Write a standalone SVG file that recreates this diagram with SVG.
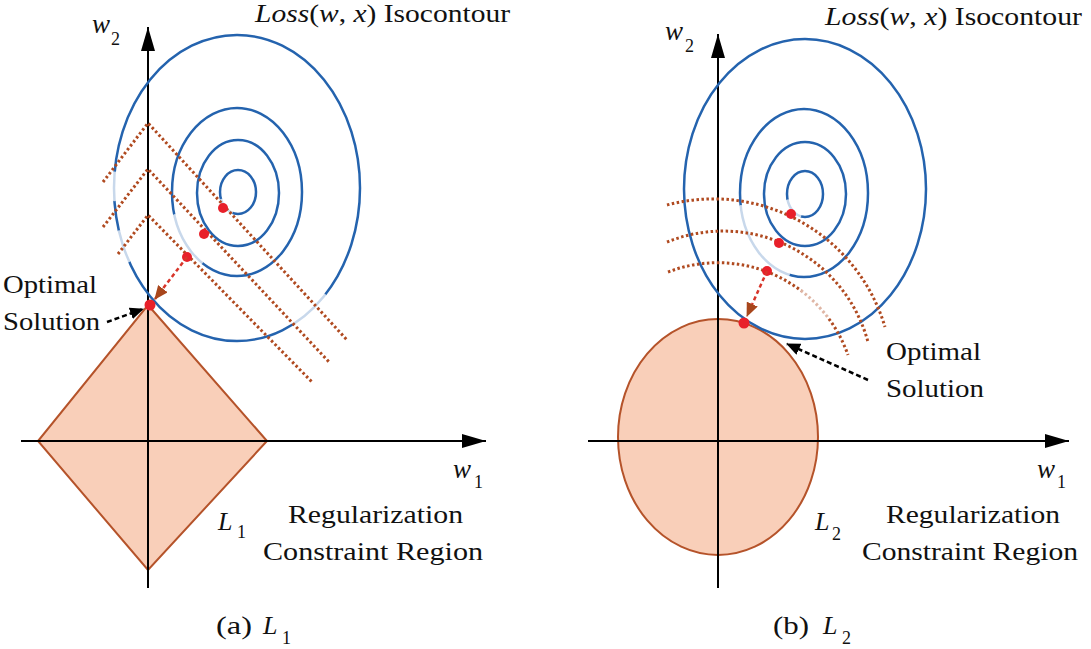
<svg xmlns="http://www.w3.org/2000/svg" width="1091" height="649" viewBox="0 0 1091 649">
<defs>
<marker id="axhead" markerWidth="24" markerHeight="14" refX="24" refY="7" orient="auto" markerUnits="userSpaceOnUse"><path d="M0,0 L24,7 L0,14 Z" fill="#000"/></marker>
<marker id="bhead" markerWidth="14" markerHeight="12" refX="13" refY="6" orient="auto" markerUnits="userSpaceOnUse"><path d="M0,0 L14,6 L0,12 Z" fill="#a8461c"/></marker>
<marker id="khead" markerWidth="14" markerHeight="12" refX="13" refY="6" orient="auto" markerUnits="userSpaceOnUse"><path d="M0,0 L14,6 L0,12 Z" fill="#000"/></marker>
</defs>
<style>
.axis{stroke:#000;stroke-width:2;fill:none;}
.contour{stroke:#2463ae;stroke-width:2.5;fill:none;}
.dot{stroke:#b04a20;stroke-width:3;fill:none;stroke-dasharray:2.5 2.5;}
.region{fill:#f9cfb9;stroke:#b5532a;stroke-width:2;}
.pt{fill:#e8202a;}
.rarrow{stroke:#d8352a;stroke-width:2.5;stroke-dasharray:4 3;fill:none;}
.karrow{stroke:#000;stroke-width:2.5;stroke-dasharray:5 3;fill:none;}
.fade{stroke:#fff;stroke-width:5;fill:none;stroke-opacity:0.75;stroke-linecap:round;}
</style>
<rect width="1091" height="649" fill="#fff"/>

<!-- Left panel (a) -->
<g id="a-region"><polygon class="region" points="148,305 267,441 148,570 38,441"/></g>
<g id="a-axes">
<line class="axis" x1="148" y1="588" x2="148" y2="27" marker-end="url(#axhead)"/>
<line class="axis" x1="21" y1="441" x2="486" y2="441" marker-end="url(#axhead)"/>
</g>
<g id="a-contours">
<ellipse class="contour" cx="237" cy="188" rx="123" ry="153"/>
<ellipse class="contour" cx="237" cy="192" rx="65" ry="84"/>
<ellipse class="contour" cx="238" cy="193" rx="41" ry="53"/>
<ellipse class="contour" cx="238" cy="192" rx="18" ry="22"/>
</g>
<g id="a-fades">
<path class="fade" d="M114.7,174 A123,153 0 0 0 114.3,198.7"/>
<path class="fade" d="M119.4,232.7 A123,153 0 0 0 128.4,259.8"/>
<path class="fade" d="M294.7,323.1 A123,153 0 0 0 324,296.2"/>
<path class="fade" d="M174.8,216.6 A65,84 0 0 0 200.7,261.6"/>
<path class="fade" d="M221.7,201.3 A18,22 0 0 0 230.4,211.9"/>
</g>
<g id="a-levels">
<path class="dot" d="M103,182 L148,123 L347,340"/>
<path class="dot" d="M103,227 L148,169 L330,363"/>
<path class="dot" d="M118,254 L148,215 L313,383"/>
</g>
<g id="a-points">
<circle class="pt" cx="223" cy="208" r="5"/>
<circle class="pt" cx="204" cy="234" r="5"/>
<circle class="pt" cx="187" cy="257" r="5"/>
<circle class="pt" cx="150" cy="305" r="5.5"/>
</g>
<g id="a-connectors">
<line class="rarrow" x1="187" y1="257" x2="155" y2="299" marker-end="url(#bhead)"/>
<line class="karrow" x1="107" y1="322" x2="143" y2="309" marker-end="url(#khead)"/>
</g>
<g id="a-labels" fill="#111">
<text style="font-family:'Liberation Serif',serif;font-size:26px;font-style:italic" x="255" y="22" textLength="255" lengthAdjust="spacingAndGlyphs">Loss<tspan style="font-style:normal">(</tspan>w<tspan style="font-style:normal">, </tspan>x<tspan style="font-style:normal">) Isocontour</tspan></text>
<text style="font-family:'Liberation Serif',serif;font-size:27px;font-style:italic" x="92" y="33">w</text>
<text style="font-family:'Liberation Serif',serif;font-size:18px" x="111" y="45">2</text>
<text style="font-family:'Liberation Serif',serif;font-size:27px;font-style:italic" x="453" y="478">w</text>
<text style="font-family:'Liberation Serif',serif;font-size:18px" x="474" y="488">1</text>
<text style="font-family:'Liberation Serif',serif;font-size:26px" x="3" y="293" textLength="94" lengthAdjust="spacingAndGlyphs">Optimal</text>
<text style="font-family:'Liberation Serif',serif;font-size:26px" x="3" y="330" textLength="97" lengthAdjust="spacingAndGlyphs">Solution</text>
<text style="font-family:'Liberation Serif',serif;font-size:26px;font-style:italic" x="218" y="530">L</text>
<text style="font-family:'Liberation Serif',serif;font-size:18px" x="237" y="538">1</text>
<text style="font-family:'Liberation Serif',serif;font-size:26px" x="288" y="523" textLength="175" lengthAdjust="spacingAndGlyphs">Regularization</text>
<text style="font-family:'Liberation Serif',serif;font-size:26px" x="263" y="560" textLength="220" lengthAdjust="spacingAndGlyphs">Constraint Region</text>
<text style="font-family:'Liberation Serif',serif;font-size:26px" x="216" y="634" textLength="36" lengthAdjust="spacingAndGlyphs">(a)</text>
<text style="font-family:'Liberation Serif',serif;font-size:26px;font-style:italic" x="263" y="634">L</text>
<text style="font-family:'Liberation Serif',serif;font-size:18px" x="282" y="644">1</text>
</g>

<!-- Right panel (b) -->
<g id="b-region"><ellipse class="region" cx="718" cy="437" rx="100" ry="118"/></g>
<g id="b-axes">
<line class="axis" x1="718" y1="588" x2="718" y2="34" marker-end="url(#axhead)"/>
<line class="axis" x1="588" y1="441" x2="1069" y2="441" marker-end="url(#axhead)"/>
</g>
<g id="b-contours">
<ellipse class="contour" cx="805" cy="189" rx="121" ry="150"/>
<ellipse class="contour" cx="804" cy="193" rx="64" ry="84"/>
<ellipse class="contour" cx="805" cy="194" rx="41" ry="52"/>
<ellipse class="contour" cx="805" cy="194" rx="18" ry="23"/>
</g>
<g id="b-fades">
<path class="fade" d="M741,207.6 A64,84 0 0 0 787.4,274.1"/>
<path class="fade" d="M788.1,201.9 A18,23 0 0 0 798.8,215.6"/>
</g>
<g id="b-levels">
<path class="dot" d="M667,205 A179,179 0 0 1 885,327"/>
<path class="dot" d="M667,242 A150,150 0 0 1 868,342"/>
<path class="dot" d="M668,272 A138,138 0 0 1 848,355"/>
</g>
<g id="b-fades2">
<path class="fade" style="stroke-opacity:0.6" d="M802.5,292.3 A138,138 0 0 1 826.2,316"/>
</g>
<g id="b-points">
<circle class="pt" cx="791" cy="214" r="5"/>
<circle class="pt" cx="779" cy="243" r="5"/>
<circle class="pt" cx="767" cy="271" r="5"/>
<circle class="pt" cx="744" cy="323" r="5.5"/>
</g>
<g id="b-connectors">
<line class="rarrow" x1="767" y1="271" x2="747" y2="316" marker-end="url(#bhead)"/>
<line class="karrow" x1="868" y1="380" x2="787" y2="344" marker-end="url(#khead)"/>
</g>
<g id="b-labels" fill="#111">
<text style="font-family:'Liberation Serif',serif;font-size:26px;font-style:italic" x="825" y="25" textLength="257" lengthAdjust="spacingAndGlyphs">Loss<tspan style="font-style:normal">(</tspan>w<tspan style="font-style:normal">, </tspan>x<tspan style="font-style:normal">) Isocontour</tspan></text>
<text style="font-family:'Liberation Serif',serif;font-size:27px;font-style:italic" x="665" y="40">w</text>
<text style="font-family:'Liberation Serif',serif;font-size:18px" x="685" y="52">2</text>
<text style="font-family:'Liberation Serif',serif;font-size:27px;font-style:italic" x="1037" y="478">w</text>
<text style="font-family:'Liberation Serif',serif;font-size:18px" x="1057" y="488">1</text>
<text style="font-family:'Liberation Serif',serif;font-size:26px" x="886" y="360" textLength="95" lengthAdjust="spacingAndGlyphs">Optimal</text>
<text style="font-family:'Liberation Serif',serif;font-size:26px" x="886" y="397" textLength="98" lengthAdjust="spacingAndGlyphs">Solution</text>
<text style="font-family:'Liberation Serif',serif;font-size:26px;font-style:italic" x="815" y="530">L</text>
<text style="font-family:'Liberation Serif',serif;font-size:18px" x="832" y="540">2</text>
<text style="font-family:'Liberation Serif',serif;font-size:26px" x="886" y="523" textLength="174" lengthAdjust="spacingAndGlyphs">Regularization</text>
<text style="font-family:'Liberation Serif',serif;font-size:26px" x="862" y="560" textLength="216" lengthAdjust="spacingAndGlyphs">Constraint Region</text>
<text style="font-family:'Liberation Serif',serif;font-size:26px" x="773" y="634" textLength="36" lengthAdjust="spacingAndGlyphs">(b)</text>
<text style="font-family:'Liberation Serif',serif;font-size:26px;font-style:italic" x="823" y="634">L</text>
<text style="font-family:'Liberation Serif',serif;font-size:18px" x="842" y="644">2</text>
</g>
</svg>
